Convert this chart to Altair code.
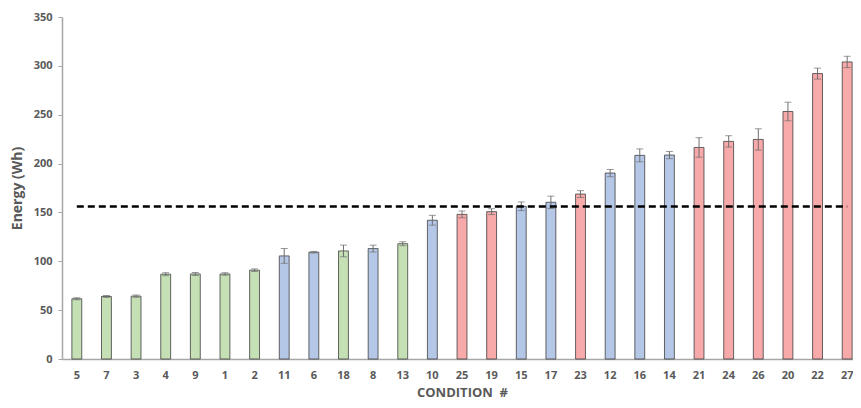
import altair as alt
import pandas as pd

conditions = ["5", "7", "3", "4", "9", "1", "2", "11", "6", "18", "8", "13", "10", "25",
              "19", "15", "17", "23", "12", "16", "14", "21", "24", "26", "20", "22", "27"]
energy = [61.6, 64.0, 64.3, 86.8, 87.0, 87.0, 90.9, 105.5, 109.3, 110.6, 113.0, 118.0, 142.0, 148.0,
          150.8, 156.3, 160.4, 168.8, 190.3, 208.4, 208.7, 216.5, 222.7, 224.7, 253.3, 292.1, 304.0]
errors = [1.0, 1.0, 1.2, 1.5, 1.5, 1.3, 1.3, 7.6, 0.8, 6.0, 3.5, 2.0, 5.0, 3.5,
          3.0, 4.4, 6.3, 3.5, 3.7, 6.6, 3.7, 10.0, 5.8, 10.9, 9.5, 5.6, 5.8]
groups = ["A", "A", "A", "A", "A", "A", "A", "B", "B", "A", "B", "A", "B", "C",
          "C", "B", "B", "C", "B", "B", "B", "C", "C", "C", "C", "C", "C"]
group_colors = {"A": "#C5E0B4", "B": "#B4C7E7", "C": "#F8A9AA"}
reference_value = 156

df = pd.DataFrame({
    "condition": conditions,
    "energy": energy,
    "lo": [e - s for e, s in zip(energy, errors)],
    "hi": [e + s for e, s in zip(energy, errors)],
    "group": groups,
})
ref_df = pd.DataFrame({"c1": [conditions[0]], "c2": [conditions[-1]], "v": [reference_value]})

label_font = "Open Sans"
gray = "#595959"

x_scale = alt.Scale(domain=conditions, range=[0, 800], paddingInner=2 / 3, paddingOuter=1 / 3)
y_scale = alt.Scale(domain=[0, 350], nice=False)

x_enc = alt.X(
    "condition:N",
    scale=x_scale,
    axis=alt.Axis(
        title="CONDITION\u00a0\u00a0#",
        titleFontSize=13,
        labelAngle=0,
        ticks=False,
        labelPadding=10,
        titlePadding=6,
        domainColor="#A6A6A6",
        domainWidth=1.5,
    ),
)

bars = alt.Chart(df).mark_bar(stroke="#404040", strokeWidth=1, strokeOpacity=0.8).encode(
    x=x_enc,
    y=alt.Y(
        "energy:Q",
        scale=y_scale,
        axis=alt.Axis(
            title="Energy (Wh)",
            values=[0, 50, 100, 150, 200, 250, 300, 350],
            grid=False,
            tickSize=4,
            tickColor="#A6A6A6",
            labelPadding=6,
            titlePadding=9,
            domainColor="#A6A6A6",
            domainWidth=1.5,
        ),
    ),
    color=alt.Color(
        "group:N",
        scale=alt.Scale(domain=list(group_colors.keys()), range=list(group_colors.values())),
        legend=None,
    ),
)

err = alt.Chart(df).mark_rule(color="#6E6E6E", strokeWidth=1).encode(
    x=alt.X("condition:N", scale=x_scale),
    y=alt.Y("lo:Q", scale=y_scale),
    y2="hi:Q",
)
cap_lo = alt.Chart(df).mark_tick(color="#6E6E6E", thickness=1, size=7).encode(
    x=alt.X("condition:N", scale=x_scale),
    y=alt.Y("lo:Q", scale=y_scale),
)
cap_hi = alt.Chart(df).mark_tick(color="#6E6E6E", thickness=1, size=7).encode(
    x=alt.X("condition:N", scale=x_scale),
    y=alt.Y("hi:Q", scale=y_scale),
)

ref = alt.Chart(ref_df).mark_rule(color="black", strokeWidth=2.5, strokeDash=[7, 4]).encode(
    x=alt.X("c1:N", scale=x_scale),
    x2="c2:N",
    y=alt.Y("v:Q", scale=y_scale),
)

chart = (
    alt.layer(bars, err, cap_lo, cap_hi, ref)
    .properties(
        width=791,
        height=342,
        autosize=alt.AutoSizeParams(type="none"),
        padding={"left": 54, "top": 9, "right": 0, "bottom": 41},
    )
    .configure_view(stroke=None)
    .configure_axis(
        labelFont=label_font,
        labelFontWeight="bold",
        labelFontSize=11,
        labelColor=gray,
        titleFont=label_font,
        titleFontWeight="bold",
        titleColor=gray,
        titleFontSize=14,
    )
)

chart.save("out.html", embed_options={"renderer": "svg", "actions": False})
